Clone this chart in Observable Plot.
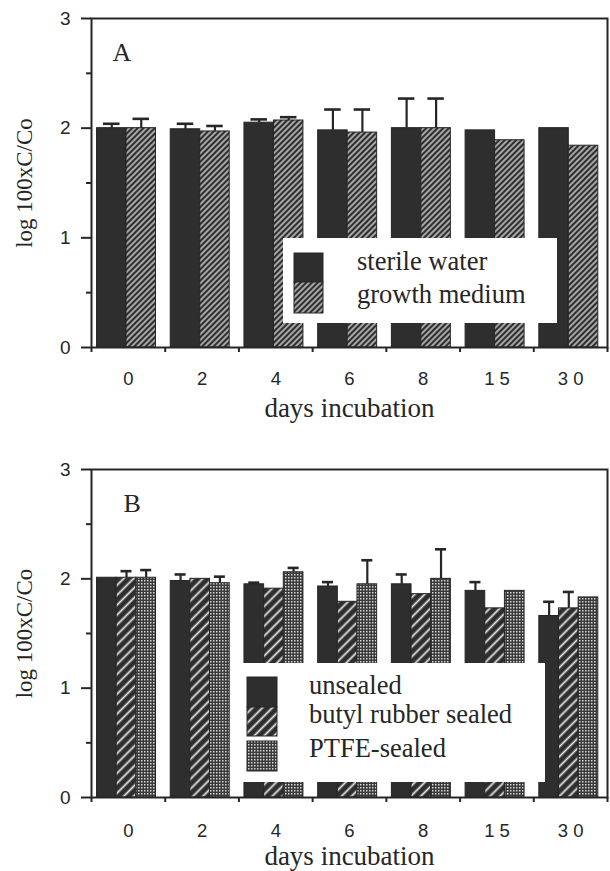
<!DOCTYPE html>
<html><head><meta charset="utf-8">
<script src="https://cdn.jsdelivr.net/npm/d3@7"></script>
<script src="https://cdn.jsdelivr.net/npm/@observablehq/plot@0.6"></script>
<style>
html,body{margin:0;padding:0;background:#fff;}
body{width:610px;height:871px;overflow:hidden;}
.panel{position:relative;width:610px;}
.legend{position:absolute;background:#fff;}
.panel svg{display:block;}
g[aria-description="xticklabels"] text{letter-spacing:5px;}
</style></head><body>
<svg width="0" height="0" style="position:absolute">
  <defs>
    <pattern id="hatchA" patternUnits="userSpaceOnUse" width="4" height="4" patternTransform="rotate(45)">
      <rect width="4" height="4" fill="#2e2e2e"/>
      <line x1="2" y1="0" x2="2" y2="4" stroke="#e6e6e6" stroke-width="1.3"/>
    </pattern>
    <pattern id="hatchB" patternUnits="userSpaceOnUse" width="7" height="7" patternTransform="rotate(45)">
      <rect width="7" height="7" fill="#2e2e2e"/>
      <line x1="3.5" y1="0" x2="3.5" y2="7" stroke="#e6e6e6" stroke-width="1.8"/>
    </pattern>
    <pattern id="dots" patternUnits="userSpaceOnUse" width="3" height="3">
      <rect width="3" height="3" fill="#3a3a3a"/>
      <rect x="0" y="0" width="1.5" height="1.5" fill="#d6d6d6"/>
    </pattern>
  </defs>
</svg>
<div id="A" class="panel"></div>
<div id="B" class="panel"></div>
<script>
// ---------- data ----------
const days = ["0", "2", "4", "6", "8", "15", "30"];

// Panel A
const sterileWater    = [2.00, 1.99, 2.05, 1.98, 2.00, 1.98, 2.00];
const sterileWaterErr = [0.04, 0.05, 0.03, 0.19, 0.27, 0, 0];
const growthMedium    = [2.00, 1.97, 2.07, 1.96, 2.00, 1.89, 1.84];
const growthMediumErr = [0.085, 0.05, 0.03, 0.21, 0.27, 0, 0];

// Panel B
const unsealed     = [2.01, 1.98, 1.95, 1.93, 1.95, 1.89, 1.66];
const unsealedErr  = [0, 0.06, 0.015, 0.04, 0.09, 0.08, 0.13];
const butyl        = [2.01, 2.00, 1.91, 1.79, 1.86, 1.73, 1.73];
const butylErr     = [0.06, 0, 0, 0, 0, 0, 0.15];
const ptfe         = [2.01, 1.96, 2.06, 1.95, 2.00, 1.89, 1.83];
const ptfeErr      = [0.07, 0.06, 0.04, 0.22, 0.27, 0, 0];

const yTicks = [0, 1, 2, 3];
const yMinor = [0.5, 1.5, 2.5];
const yLabel = "log 100xC/Co";
const xLabel = "days incubation";

const SERIF = "'Liberation Serif', 'Times New Roman', serif";
const SANS = "'Liberation Sans', Arial, Helvetica, sans-serif";
const INK = "#262626";

function drawPanel(el, cfg) {
  const n = cfg.series.length;
  const bw = 0.8 / n;
  const rows = [];
  cfg.series.forEach((s, si) => s.values.forEach((v, i) => rows.push({i, si, value: v, err: s.err[i], fill: s.fill})));
  const x1 = d => d.i + 0.075 + d.si * bw;
  const x2 = d => d.i + 0.075 + (d.si + 1) * bw;
  const xc = d => d.i + 0.075 + (d.si + 0.5) * bw;
  const cap = 0.28 * bw;
  const errRows = rows.filter(d => d.err > 0);
  const marks = [];
  cfg.series.forEach((s, si) => {
    marks.push(Plot.rect(rows.filter(d => d.si === si), {x1, x2, y1: 0, y2: "value", fill: s.fill, stroke: INK, strokeWidth: 1}));
  });
  marks.push(
    Plot.ruleX(errRows, {x: xc, y1: "value", y2: d => d.value + d.err, stroke: INK, strokeWidth: 2.2}),
    Plot.ruleY(errRows, {y: d => d.value + d.err, x1: d => xc(d) - cap, x2: d => xc(d) + cap, stroke: INK, strokeWidth: 2.6}),
    Plot.frame({stroke: INK, strokeWidth: 2}),
    Plot.axisY(yTicks, {tickSize: 10, tickFormat: () => "", label: null, strokeWidth: 2, stroke: INK}),
    Plot.axisY(yMinor, {tickSize: 5, tickFormat: () => "", label: null, strokeWidth: 2, stroke: INK}),
    Plot.text(yTicks, {y: d => d, text: d => String(d), frameAnchor: "left", textAnchor: "end", dx: -21, fontSize: 19, fontFamily: SANS, fill: INK}),
    Plot.axisX(d3.range(days.length + 1), {tickSize: 5, tickFormat: () => "", label: null, strokeWidth: 2, stroke: INK}),
    Plot.text(days, {x: (d, i) => i + 0.5, text: d => d, frameAnchor: "bottom", lineAnchor: "bottom", dx: 2.5, dy: cfg.tickDy, fontSize: 18.5, fontFamily: SANS, fill: INK, ariaDescription: "xticklabels"}),
    Plot.text([xLabel], {frameAnchor: "bottom", lineAnchor: "bottom", dy: cfg.titleDy, fontSize: 27, fontFamily: SERIF, fill: INK}),
    Plot.text([yLabel], {frameAnchor: "left", textAnchor: "middle", rotate: -90, dx: -67, fontSize: 23, fontFamily: SERIF, fill: INK}),
    Plot.text([cfg.letter], {frameAnchor: "top-left", textAnchor: "start", lineAnchor: "bottom", dx: cfg.letterDx, dy: 42, fontSize: 26, fontFamily: SERIF, fill: INK})
  );
  const plot = Plot.plot({
    width: 610,
    height: cfg.height,
    marginLeft: 91,
    marginRight: 3,
    marginTop: cfg.marginTop,
    marginBottom: cfg.marginBottom,
    x: {domain: [0, days.length]},
    y: {domain: [0, 3]},
    style: {background: "transparent", overflow: "visible", color: INK},
    marks
  });
  el.appendChild(plot);

  // legend overlay
  const L = cfg.legend;
  const ns = "http://www.w3.org/2000/svg";
  const box = document.createElement("div");
  box.className = "legend";
  Object.assign(box.style, {left: L.left + "px", top: L.top + "px", width: L.width + "px", height: L.height + "px"});
  const svg = document.createElementNS(ns, "svg");
  svg.setAttribute("width", L.width);
  svg.setAttribute("height", L.height);
  cfg.series.forEach((s, si) => {
    const r = document.createElementNS(ns, "rect");
    r.setAttribute("x", L.swX); r.setAttribute("y", L.swY[si]);
    r.setAttribute("width", L.swW); r.setAttribute("height", L.swH[si]);
    r.setAttribute("fill", s.fill); r.setAttribute("stroke", INK); r.setAttribute("stroke-width", 1);
    svg.appendChild(r);
    const t = document.createElementNS(ns, "text");
    t.setAttribute("x", L.textX); t.setAttribute("y", L.base[si]);
    t.setAttribute("font-family", SERIF); t.setAttribute("font-size", 26.5); t.setAttribute("fill", INK);
    t.textContent = s.name;
    svg.appendChild(t);
  });
  box.appendChild(svg);
  el.appendChild(box);
}

drawPanel(document.getElementById("A"), {
  letter: "A", letterDx: 21, height: 430, marginTop: 18, marginBottom: 83, tickDy: 37, titleDy: 69,
  series: [
    {name: "sterile water", values: sterileWater, err: sterileWaterErr, fill: "#2e2e2e"},
    {name: "growth medium", values: growthMedium, err: growthMediumErr, fill: "url(#hatchA)"}
  ],
  legend: {left: 283, top: 238, width: 274, height: 85, swX: 11, swW: 29, swY: [15, 44], swH: [29, 31], textX: 74, base: [32, 65]}
});

drawPanel(document.getElementById("B"), {
  letter: "B", letterDx: 32, height: 441, marginTop: 39, marginBottom: 74, tickDy: 39, titleDy: 67,
  series: [
    {name: "unsealed", values: unsealed, err: unsealedErr, fill: "#2e2e2e"},
    {name: "butyl rubber sealed", values: butyl, err: butylErr, fill: "url(#hatchB)"},
    {name: "PTFE-sealed", values: ptfe, err: ptfeErr, fill: "url(#dots)"}
  ],
  legend: {left: 233, top: 233, width: 312, height: 119, swX: 14, swW: 30, swY: [14, 44, 78], swH: [30, 29, 30], textX: 76, base: [31, 60, 94]}
});
</script>
</body></html>
